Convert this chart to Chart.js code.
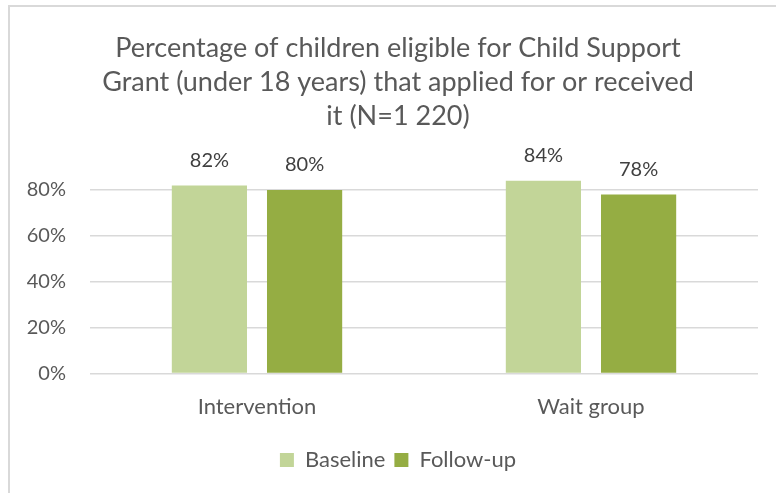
<!DOCTYPE html>
<html>
<head>
<meta charset="utf-8">
<script src="https://cdn.jsdelivr.net/npm/chart.js@4/dist/chart.umd.min.js"></script>
<style>
  html, body { margin: 0; padding: 0; background: #fff; }
  #wrap { position: relative; width: 776px; height: 493px; overflow: hidden; }
  #frame { position: absolute; left: 8px; top: 5px; width: 800px; height: 520px;
           border: 2px solid #d9d9d9; box-sizing: border-box; }
  canvas { position: absolute; left: 0; top: 0; }
</style>
</head>
<body>
<div id="wrap">
  <div id="frame"></div>
  <canvas id="chart" width="776" height="493"></canvas>
</div>
<script>
// Groups and survey rounds
const groups = ['Intervention', 'Wait group'];
const baseline = [0.82, 0.84];
const followUp = [0.80, 0.78];
const titleLines = [
  'Percentage of children eligible for Child Support',
  'Grant (under 18 years) that applied for or received',
  'it (N=1 220)'
];

const FONT = 'Lato, "Open Sans", sans-serif';
const pct = v => Math.round(v * 100) + '%';

// Writes each bar's value above it
const valueLabels = {
  id: 'valueLabels',
  afterDatasetsDraw(chart) {
    const ctx = chart.ctx;
    ctx.save();
    ctx.font = '20px ' + FONT;
    ctx.fillStyle = '#404040';
    ctx.textAlign = 'center';
    ctx.textBaseline = 'bottom';
    chart.data.datasets.forEach((ds, i) => {
      chart.getDatasetMeta(i).data.forEach((bar, j) => {
        ctx.fillText(pct(ds.data[j]), bar.x, bar.y - 15);
      });
    });
    ctx.restore();
  }
};

new Chart(document.getElementById('chart'), {
  type: 'bar',
  data: {
    labels: groups,
    datasets: [
      { label: 'Baseline', data: baseline, backgroundColor: '#c2d598', yAxisID: 'y' },
      { label: 'Follow-up', data: followUp, backgroundColor: '#95ad43', yAxisID: 'y' }
    ]
  },
  options: {
    responsive: false,
    animation: false,
    devicePixelRatio: 1,
    categoryPercentage: 0.57,
    barPercentage: 0.79,
    layout: { padding: { left: 20, right: 0, top: 0, bottom: 12 } },
    plugins: {
      title: {
        display: true,
        text: titleLines,
        color: '#595959',
        font: { family: FONT, size: 27, weight: 'normal', lineHeight: 1.26 },
        padding: { top: 31, bottom: 34 }
      },
      legend: {
        position: 'bottom',
        labels: {
          color: '#595959',
          font: { family: FONT, size: 22 },
          boxWidth: 14,
          boxHeight: 14,
          padding: 9
        }
      },
      tooltip: { enabled: false }
    },
    scales: {
      x: {
        grid: { display: false, drawTicks: false },
        border: { display: false },
        ticks: { color: '#595959', font: { family: FONT, size: 22 }, padding: 20 }
      },
      y: {
        min: 0,
        max: 0.9,
        afterFit(scale) { scale.width = 70; },
        afterBuildTicks(scale) {
          scale.ticks = scale.ticks.filter(t => Math.abs(Math.round(t.value * 5) - t.value * 5) < 1e-6);
        },
        grid: { color: '#d9d9d9', lineWidth: 1.5, drawTicks: false },
        border: { display: false },
        ticks: {
          stepSize: 0.2,
          color: '#595959',
          font: { family: FONT, size: 20 },
          padding: 24,
          callback: v => pct(v)
        }
      },
      // empty right margin beside the plot
      yRight: {
        position: 'right',
        min: 0,
        max: 0.9,
        afterFit(scale) { scale.width = 18; },
        grid: { display: false, drawTicks: false },
        border: { display: false },
        ticks: { display: false }
      }
    }
  },
  plugins: [valueLabels]
});
</script>
</body>
</html>
